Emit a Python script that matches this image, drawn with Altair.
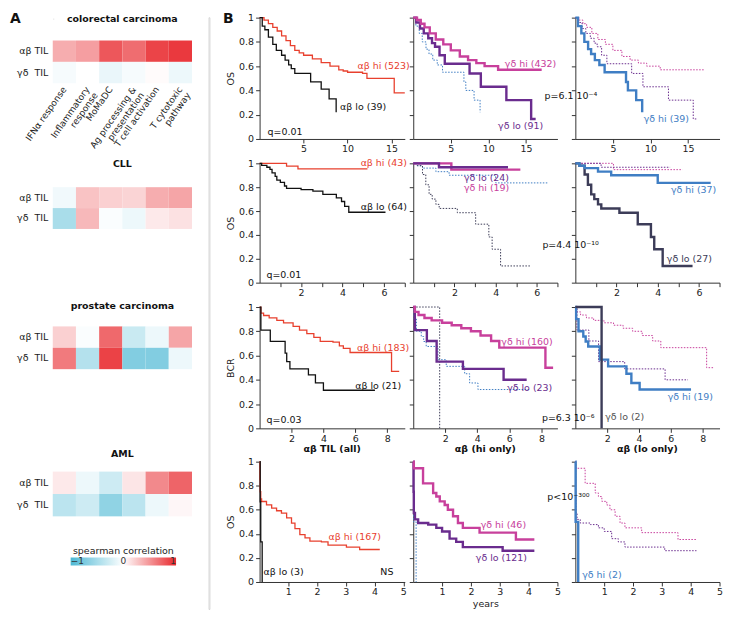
import altair as alt
import pandas as pd

FONT = "DejaVu Sans"
FS = 9.5
INK = "#222222"

RED = "#e8402e"
BLACK = "#111111"
MAGENTA = "#c8409c"
PURPLE = "#6a2c8e"
BLUE = "#3f7ec4"
DARK = "#3c3c58"
GREY = "#555555"
CYAN_END = "#4cb8d4"
RED_END = "#e8282d"

# ---------------- Panel A : spearman correlation heatmaps ----------------
pathways = ["IFNα response", "Inflammatory|response", "MoMaDC",
            "Ag processing &|presentation", "T cell activation", "T cytotoxic|pathway"]
til_rows = ["αβ TIL", "γδ\u00a0 TIL"]

crc_ab = [0.38, 0.45, 0.78, 0.68, 0.87, 0.92]
crc_gd = [-0.05, 0.0, -0.12, -0.05, 0.02, -0.10]
cll_ab = [-0.08, 0.28, 0.22, 0.20, 0.38, 0.42]
cll_gd = [-0.48, 0.33, -0.03, -0.10, 0.10, 0.14]
pca_ab = [0.22, -0.03, 0.70, -0.30, -0.10, 0.42]
pca_gd = [0.62, -0.42, 0.88, -0.70, -0.70, -0.10]
aml_ab = [0.10, -0.10, -0.28, 0.12, 0.55, 0.72]
aml_gd = [-0.38, -0.28, -0.62, -0.38, -0.10, 0.04]
legend_ticks = [-1, 0, 1]

# ---------------- Panel B : Kaplan-Meier curves ----------------
y_ticks = [0, 0.2, 0.4, 0.6, 0.8, 1]

# row 1 : colorectal carcinoma (OS)
r1_abhi_t = [0, 0.5, 1, 1.5, 2, 2.5, 3, 3.5, 4, 4.5, 5, 6, 7, 8, 9, 9.5, 10, 11.7, 12.2, 15.3, 16.5]
r1_abhi_s = [1, 0.98, 0.95, 0.92, 0.89, 0.85, 0.81, 0.77, 0.73, 0.71, 0.69, 0.66, 0.63, 0.60, 0.57, 0.56, 0.55, 0.54, 0.50, 0.38, 0.38]
r1_ablo_t = [0, 0.3, 0.6, 1.0, 1.5, 1.9, 2.5, 2.9, 3.3, 3.6, 4.0, 5.8, 7.0, 7.9, 8.7]
r1_ablo_s = [1, 0.93, 0.90, 0.84, 0.78, 0.73, 0.69, 0.65, 0.61, 0.58, 0.54, 0.47, 0.41, 0.33, 0.22]
r1_gdhi_t = [0, 0.5, 1, 1.5, 2.2, 3, 4, 5, 6.2, 7.3, 8.4, 9.5, 11.3, 17.1]
r1_gdhi_s = [1, 0.98, 0.95, 0.92, 0.87, 0.82, 0.78, 0.73, 0.68, 0.65, 0.625, 0.60, 0.57, 0.57]
r1_gdlo_t = [0, 0.4, 0.9, 1.4, 2.0, 2.5, 2.9, 3.5, 4.2, 7.5, 9.0, 12.4, 15.7, 16.3]
r1_gdlo_s = [1, 0.96, 0.91, 0.87, 0.83, 0.79, 0.76, 0.69, 0.62, 0.54, 0.43, 0.32, 0.165, 0.165]
r1_lohi_t = [0, 0.35, 0.8, 1.2, 1.7, 2.1, 2.6, 3.2, 3.9, 6.75, 7.0, 8.1, 8.9]
r1_lohi_s = [1, 0.93, 0.87, 0.80, 0.74, 0.70, 0.65, 0.61, 0.55, 0.47, 0.40, 0.32, 0.22]

# row 2 : CLL (OS)
r2_abhi_t = [0, 1.3, 1.85, 5.2]
r2_abhi_s = [1, 0.977, 0.953, 0.953]
r2_ablo_t = [0, 0.1, 0.35, 0.5, 0.6, 0.75, 0.83, 1.0, 1.2, 1.3, 2.0, 2.57, 3.05, 3.7, 3.95, 4.1, 4.3, 6.07]
r2_ablo_s = [1, 0.983, 0.967, 0.95, 0.92, 0.89, 0.86, 0.84, 0.81, 0.79, 0.78, 0.767, 0.74, 0.71, 0.68, 0.64, 0.59, 0.59]
r2_gdhi_t = [0, 1.85, 5.2]
r2_gdhi_s = [1, 0.947, 0.947]
r2_gdlo_t = [0, 1.25, 4.6]
r2_gdlo_s = [1, 0.967, 0.967]
r2_lohi_t = [0, 0.2, 0.45, 1.1, 1.74, 4.0, 6.57]
r2_lohi_s = [1, 0.98, 0.96, 0.93, 0.90, 0.836, 0.836]
r2_lolo_t = [0, 0.2, 0.45, 0.61, 0.77, 0.92, 1.1, 1.26, 2.14, 3.03, 3.67, 3.83, 4.24, 5.69]
r2_lolo_s = [1, 0.98, 0.906, 0.82, 0.74, 0.70, 0.656, 0.622, 0.586, 0.49, 0.383, 0.28, 0.14, 0.14]

# row 3 : prostate carcinoma (BCR)
r3_abhi_t = [0, 0.08, 0.25, 0.6, 1.08, 1.5, 2.1, 2.5, 2.96, 3.4, 3.8, 4.6, 5.0, 5.25, 5.67, 8.27, 8.75]
r3_abhi_s = [1, 0.95, 0.93, 0.91, 0.89, 0.87, 0.84, 0.81, 0.78, 0.75, 0.716, 0.71, 0.68, 0.66, 0.625, 0.47, 0.47]
r3_ablo_t = [0, 0.08, 0.67, 1.6, 1.7, 1.9, 3.06, 3.5, 4.0, 7.23]
r3_ablo_s = [1, 0.81, 0.716, 0.62, 0.55, 0.49, 0.44, 0.375, 0.314, 0.314]
r3_gdhi_t = [0, 0.1, 0.33, 0.7, 1.15, 1.8, 2.4, 3.0, 3.6, 4.2, 4.86, 5.37, 8.25, 8.73]
r3_gdhi_s = [1, 0.96, 0.934, 0.91, 0.89, 0.87, 0.85, 0.825, 0.80, 0.765, 0.72, 0.665, 0.50, 0.50]
r3_gdlo_t = [0, 0.1, 0.85, 1.46, 3.1, 5.64, 7.08]
r3_gdlo_s = [1, 0.81, 0.72, 0.55, 0.49, 0.40, 0.40]
r3_lohi_t = [0, 0.05, 0.2, 0.5, 0.65, 0.81, 1.54, 2.06, 3.21, 3.52, 4.04, 7.27]
r3_lohi_s = [1, 0.90, 0.80, 0.757, 0.716, 0.675, 0.566, 0.511, 0.45, 0.374, 0.32, 0.32]
r3_lolo_t = [0, 1.65]
r3_lolo_s = [1, 0]

# row 4 : AML (OS)
r4_abhi_t = [0, 0.01, 0.02, 0.04, 0.07, 0.24, 0.42, 0.59, 0.76, 0.94, 1.11, 1.23, 1.4, 1.58, 1.75, 2.15, 2.38, 3.02, 3.48, 4.18]
r4_abhi_s = [1, 0.85, 0.75, 0.69, 0.669, 0.64, 0.614, 0.592, 0.573, 0.532, 0.49, 0.444, 0.394, 0.366, 0.339, 0.333, 0.306, 0.289, 0.27, 0.27]
r4_ablo_t = [0, 0.02, 0.04, 0.09]
r4_ablo_s = [1, 0.667, 0.333, 0]
r4_gdhi_t = [0, 0.02, 0.34, 0.69, 0.8, 0.92, 1.09, 1.2, 1.38, 1.55, 1.72, 2.3, 3.56, 4.2]
r4_gdhi_s = [1, 0.945, 0.82, 0.74, 0.71, 0.67, 0.64, 0.60, 0.546, 0.49, 0.45, 0.41, 0.353, 0.353]
r4_gdlo_t = [0, 0.01, 0.02, 0.06, 0.17, 0.52, 0.8, 1.0, 1.26, 1.49, 1.72, 3.1, 4.2]
r4_gdlo_s = [1, 0.75, 0.573, 0.52, 0.49, 0.477, 0.45, 0.42, 0.36, 0.333, 0.29, 0.26, 0.26]
r4_lohi_t = [0, 0.01, 0.1]
r4_lohi_s = [1, 0.5, 0]

THIN, THICK, DOT = 1.3, 2.4, 1.0
DASH = [1.5, 1.5]


def heat(title, ab, gd, height, title_offset, show_x=False, legend=False):
    df = pd.DataFrame({"pathway": pathways * 2,
                       "til": [til_rows[0]] * 6 + [til_rows[1]] * 6,
                       "rho": ab + gd})
    if show_x:
        x_axis = alt.Axis(title=None, ticks=False, domain=False, labelAngle=-55, labelAlign="right",
                          labelBaseline="middle", labelFontSize=9, labelColor=INK, labelPadding=4,
                          labelLineHeight=10, labelExpr="split(datum.label, '|')")
    else:
        x_axis = None
    if legend:
        leg = alt.Legend(orient="none", legendX=18, legendY=75, direction="horizontal",
                         title="spearman correlation", titleFontSize=FS, titleFontWeight="normal",
                         titleColor=INK, titleAnchor="middle", titlePadding=2,
                         gradientLength=106, gradientThickness=8, gradientStrokeWidth=0,
                         values=legend_ticks, labelFontSize=9, labelColor="#333",
                         labelOffset={"expr": "-9"})
    else:
        leg = None
    return alt.Chart(df).mark_rect().encode(
        x=alt.X("pathway:N", sort=pathways, axis=x_axis),
        y=alt.Y("til:N", sort=til_rows,
                axis=alt.Axis(title=None, ticks=False, domain=False, labelFontSize=FS,
                              labelColor=INK, labelPadding=5)),
        color=alt.Color("rho:Q", scale=alt.Scale(type="linear", domain=[-1, 1], interpolate="rgb",
                                                 range=[CYAN_END, "#ffffff", RED_END]),
                        legend=leg),
    ).properties(width=140, height=height,
                 title=alt.TitleParams(title, fontSize=FS, fontWeight="bold", color="#111",
                                       offset=title_offset, anchor="middle", frame="group"))


def km(curves, texts, xdom, width, height, xvals, xlabel_expr=None, ytitle=None,
       title=None, xtitle=None, letter=False):
    xa = dict(values=xvals, tickSize=4, labelFontSize=FS, labelColor=INK, tickColor="#333",
              domainColor="#333", grid=False, labelFlush=False, labelPadding=1)
    if xlabel_expr:
        xa["labelExpr"] = xlabel_expr
    if xtitle:
        xa.update(title=xtitle, titleFontSize=FS, titleFontWeight="normal", titleColor=INK, titlePadding=2)
    elif letter:
        xa.update(title="B", titleX=-32, titleY=-(height - 1), titleAngle=0, titleAlign="center",
                  titleBaseline="middle", titleFontSize=14, titleFontWeight="bold", titleColor="#111")
    else:
        xa["title"] = None
    ya = dict(values=y_ticks, tickSize=4, tickColor="#333", domainColor="#333", grid=False)
    if ytitle:
        ya.update(title=ytitle, labelFontSize=FS, labelColor=INK, labelPadding=2,
                  labelExpr="datum.value == 0 ? '0' : datum.value == 1 ? '1' : format(datum.value, '.1f')",
                  titleFontSize=FS, titleFontWeight="normal", titleColor=INK, titlePadding=3)
    else:
        ya.update(labels=False, title=None)
    X = alt.X("t:Q", scale=alt.Scale(domain=xdom, nice=False, zero=False), axis=alt.Axis(**xa))
    Y = alt.Y("s:Q", scale=alt.Scale(domain=[0, 1], nice=False), axis=alt.Axis(**ya))
    layers = []
    for tt, ss, color, sw, dash in curves:
        df = pd.DataFrame({"t": tt, "s": ss, "i": list(range(len(tt)))})
        kw = dict(interpolate="step-after", color=color, strokeWidth=sw)
        if dash:
            kw["strokeDash"] = dash
        layers.append(alt.Chart(df).mark_line(**kw).encode(x=X, y=Y, order="i:Q"))
    for lab, tx, sy, color, align in texts:
        df = pd.DataFrame({"t": [tx], "s": [sy], "lab": [lab]})
        layers.append(alt.Chart(df).mark_text(align=align, baseline="middle", fontSize=FS, color=color)
                      .encode(x=X, y=Y, text="lab:N"))
    ch = alt.layer(*layers).properties(width=width, height=height)
    if title:
        ch = ch.properties(title=alt.TitleParams(title, fontSize=FS, fontWeight="bold", color="#111",
                                                 offset=3, anchor="middle", frame="group"))
    return ch


def spacer(w=1, h=1, view=None, letter=None):
    if letter:
        yax = alt.Axis(title=letter, labels=False, ticks=False, domain=False, titleAngle=0,
                       titleX=-38, titleY=1, titleAlign="center", titleBaseline="middle",
                       titleFontSize=14, titleFontWeight="bold", titleColor="#111")
    else:
        yax = None
    c = alt.Chart(pd.DataFrame({"v": [0]})).mark_point(opacity=0).encode(
        x=alt.X("v:Q", axis=None), y=alt.Y("v:Q", axis=yax))
    if view is not None:
        return c.properties(width=w, height=h, view=view)
    return c.properties(width=w, height=h)


EVEN = "datum.value % 2 == 0 ? datum.label : ''"

# row 1
r1c1 = km([(r1_abhi_t, r1_abhi_s, RED, THIN, None), (r1_ablo_t, r1_ablo_s, BLACK, THIN, None)],
          [("αβ hi (523)", 17.06, 0.60, RED, "right"), ("αβ lo (39)", 9.15, 0.26, BLACK, "left"),
           ("q=0.01", 0.9, 0.057, BLACK, "left")],
          [0, 16.5], 146, 122, [5, 10, 15], ytitle="OS", letter=True)
r1c2 = km([(r1_lohi_t, r1_lohi_s, BLUE, DOT, DASH), (r1_gdlo_t, r1_gdlo_s, PURPLE, THICK, None),
           (r1_gdhi_t, r1_gdhi_s, MAGENTA, THICK, None)],
          [("γδ hi (432)", 12.2, 0.62, MAGENTA, "left"), ("γδ lo (91)", 11.3, 0.107, PURPLE, "left")],
          [0, 19.2], 145, 122, [5, 10, 15])
r1c3 = km([(r1_gdhi_t, r1_gdhi_s, MAGENTA, DOT, DASH), (r1_gdlo_t, r1_gdlo_s, PURPLE, DOT, DASH),
           (r1_lohi_t, r1_lohi_s, BLUE, THICK, None)],
          [("p=6.1 10⁻⁴", -4.1, 0.35, BLACK, "left"), ("γδ hi (39)", 9.1, 0.164, BLUE, "left")],
          [0, 19.2], 145, 122, [5, 10, 15])

# row 2
r2c1 = km([(r2_abhi_t, r2_abhi_s, RED, THIN, None), (r2_ablo_t, r2_ablo_s, BLACK, THIN, None)],
          [("αβ hi (43)", 7.1, 1.0, RED, "right"), ("αβ lo (64)", 7.1, 0.636, BLACK, "right"),
           ("q=0.01", 0.33, 0.067, BLACK, "left")],
          [0, 7], 146, 120, [1, 2, 3, 4, 5, 6, 7], xlabel_expr=EVEN, ytitle="OS")
r2c2 = km([(r2_lohi_t, r2_lohi_s, BLUE, DOT, DASH), (r2_lolo_t, r2_lolo_s, DARK, DOT, DASH),
           (r2_gdhi_t, r2_gdhi_s, MAGENTA, THICK, None), (r2_gdlo_t, r2_gdlo_s, PURPLE, THICK, None)],
          [("γδ lo (24)", 2.46, 0.878, PURPLE, "left"), ("γδ hi (19)", 2.46, 0.794, MAGENTA, "left")],
          [0, 7], 145, 120, [1, 2, 3, 4, 5, 6, 7], xlabel_expr=EVEN)
r2c3 = km([(r2_gdhi_t, r2_gdhi_s, MAGENTA, DOT, DASH), (r2_gdlo_t, r2_gdlo_s, PURPLE, DOT, DASH),
           (r2_lolo_t, r2_lolo_s, DARK, THICK, None), (r2_lohi_t, r2_lohi_s, BLUE, THICK, None)],
          [("γδ hi (37)", 4.64, 0.775, BLUE, "left"), ("γδ lo (27)", 4.44, 0.2, DARK, "left"),
           ("p=4.4 10⁻¹⁰", -1.6, 0.317, BLACK, "left")],
          [0, 7], 145, 120, [1, 2, 3, 4, 5, 6, 7], xlabel_expr=EVEN)

# row 3
r3c1 = km([(r3_abhi_t, r3_abhi_s, RED, THIN, None), (r3_ablo_t, r3_ablo_s, BLACK, THIN, None)],
          [("αβ hi (183)", 9.375, 0.664, RED, "right"), ("αβ lo (21)", 8.875, 0.352, BLACK, "right"),
           ("q=0.03", 0.44, 0.066, BLACK, "left")],
          [0, 9.1], 146, 122, [2, 4, 6, 8], ytitle="BCR")
r3c2 = km([(r3_lohi_t, r3_lohi_s, BLUE, DOT, DASH), (r3_lolo_t, r3_lolo_s, DARK, DOT, DASH),
           (r3_gdlo_t, r3_gdlo_s, PURPLE, THICK, None), (r3_gdhi_t, r3_gdhi_s, MAGENTA, THICK, None)],
          [("γδ hi (160)", 5.5, 0.713, MAGENTA, "left"), ("γδ lo (23)", 5.86, 0.336, PURPLE, "left")],
          [0, 9], 145, 122, [2, 4, 6, 8])
r3c3 = km([(r3_gdhi_t, r3_gdhi_s, MAGENTA, DOT, DASH), (r3_gdlo_t, r3_gdlo_s, PURPLE, DOT, DASH),
           (r3_lohi_t, r3_lohi_s, BLUE, THICK, None), (r3_lolo_t, r3_lolo_s, DARK, THICK, None)],
          [("γδ hi (19)", 5.8, 0.262, BLUE, "left"), ("γδ lo (2)", 1.875, 0.09, GREY, "left"),
           ("p=6.3 10⁻⁶", -2.1, 0.082, BLACK, "left")],
          [0, 9.06], 145, 122, [2, 4, 6, 8])

# row 4
r4c1 = km([(r4_abhi_t, r4_abhi_s, RED, THIN, None), (r4_ablo_t, r4_ablo_s, BLACK, THIN, None)],
          [("αβ hi (167)", 2.4, 0.372, RED, "left"), ("αβ lo (3)", 0.14, 0.083, BLACK, "left"),
           ("NS", 4.2, 0.083, BLACK, "left")],
          [0, 5.05], 146, 121, [1, 2, 3, 4, 5], ytitle="OS", title="αβ TIL (all)")
r4c2 = km([(r4_lohi_t, r4_lohi_s, BLUE, DOT, DASH), (r4_gdlo_t, r4_gdlo_s, PURPLE, THICK, None),
           (r4_gdhi_t, r4_gdhi_s, MAGENTA, THICK, None)],
          [("γδ hi (46)", 2.34, 0.47, MAGENTA, "left"), ("γδ lo (121)", 2.17, 0.2, PURPLE, "left")],
          [0, 5], 145, 121, [1, 2, 3, 4, 5], title="αβ (hi only)", xtitle="years")
r4c3 = km([(r4_gdhi_t, r4_gdhi_s, MAGENTA, DOT, DASH), (r4_gdlo_t, r4_gdlo_s, PURPLE, DOT, DASH),
           (r4_lohi_t, r4_lohi_s, BLUE, THICK, None)],
          [("p<10⁻³⁰⁰", -0.97, 0.71, BLACK, "left"), ("γδ hi (2)", 0.24, 0.058, BLUE, "left")],
          [0, 5], 145, 121, [1, 2, 3, 4, 5], title="αβ (lo only)")

GRID_SP = {"row": 24.5, "column": 8.5}
grid123 = alt.concat(r1c1, r1c2, spacer(), r1c3,
                     r2c1, r2c2, spacer(), r2c3,
                     r3c1, r3c2, spacer(), r3c3,
                     columns=4, bounds="flush", spacing=GRID_SP)
grid4 = alt.concat(r4c1, r4c2, spacer(), r4c3, columns=4, bounds="flush", spacing=GRID_SP)
B = alt.vconcat(grid123, grid4, spacing=0.5)


def indep(ch):
    return ch.resolve_scale(color="independent").resolve_legend(color="independent")


c1 = heat("colorectal carcinoma", crc_ab, crc_gd, 43, 17, show_x=True)
c2 = heat("CLL", cll_ab, cll_gd, 42, 19)
c3 = heat("prostate carcinoma", pca_ab, pca_gd, 43, 16)
c4 = heat("AML", aml_ab, aml_gd, 45, 13, legend=True)
A12 = indep(alt.vconcat(c1, c2, spacing=2.5))
A123 = indep(alt.vconcat(A12, c3, spacing=71.5))
A_inner = indep(alt.vconcat(A123, c4, spacing=79.5))
A = indep(alt.vconcat(spacer(letter="A"), A_inner, spacing=-12))

divider = spacer(1, 595, alt.ViewBackground(stroke="#c4c4c4", strokeWidth=0.6))
left = indep(alt.hconcat(A, divider, spacing=13))

chart = indep(alt.hconcat(left, B, spacing=9)).properties(
    padding={"left": 1, "top": 2, "right": 2, "bottom": 2}, background="white"
).configure_view(stroke=None).configure_axis(labelFont=FONT, titleFont=FONT).configure_title(
    font=FONT).configure_legend(labelFont=FONT, titleFont=FONT).configure_text(font=FONT)

chart.save("out.html", embed_options={"renderer": "svg", "actions": False})
